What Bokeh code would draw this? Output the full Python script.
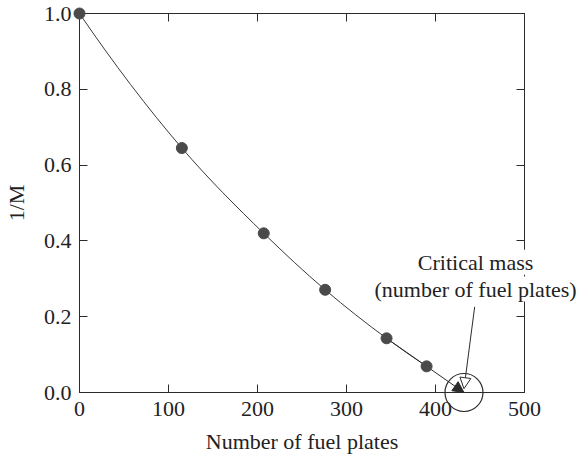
import numpy as np
from bokeh.plotting import figure
from bokeh.models import (LinearAxis, FixedTicker, NumeralTickFormatter, Range1d,
                          Arrow, NormalHead)
from bokeh.core.properties import value
from bokeh.embed import file_html
from bokeh.resources import INLINE

# ---- data ----
plates = [0, 115, 207, 276, 345, 390]          # number of fuel plates loaded
inv_m = [1.0, 0.645, 0.42, 0.271, 0.143, 0.069]  # inverse multiplication 1/M
critical_plates = 432                          # extrapolated critical mass
x_ticks = [0, 100, 200, 300, 400, 500]
y_ticks = [0.0, 0.2, 0.4, 0.6, 0.8, 1.0]
note_lines = ["Critical mass", "(number of fuel plates)"]

FONT = "Liberation Serif"
INK = "#2b2b2b"
FS = "22px"

p = figure(width=580, height=463, x_range=Range1d(0, 500), y_range=Range1d(0, 1.0),
           output_backend="svg", toolbar_location=None,
           min_border_left=77, min_border_right=56, min_border_top=13, min_border_bottom=71,
           x_axis_label="Number of fuel plates", y_axis_label="1/M")
p.grid.visible = False
p.outline_line_color = INK
p.background_fill_color = "white"
p.border_fill_color = "white"

def style_axis(ax, labels=True):
    ax.axis_line_color = INK
    ax.major_tick_line_color = INK
    ax.major_tick_in = 8
    ax.major_tick_out = 0
    ax.minor_tick_line_color = None
    ax.major_label_text_font = FONT
    ax.major_label_text_font_size = FS if labels else "1px"
    ax.major_label_text_color = "#222222" if labels else None
    ax.axis_label_text_font = FONT
    ax.axis_label_text_font_size = FS
    ax.axis_label_text_font_style = "normal"
    ax.axis_label_text_color = "#222222"

xb = p.xaxis[0]
yl = p.yaxis[0]
xb.ticker = FixedTicker(ticks=x_ticks)
yl.ticker = FixedTicker(ticks=y_ticks)
yl.formatter = NumeralTickFormatter(format="0.0")
style_axis(xb)
style_axis(yl)
xb.major_label_standoff = 9
xb.axis_label_standoff = 10
yl.major_label_standoff = 8
yl.axis_label_standoff = 12

xt = LinearAxis(ticker=FixedTicker(ticks=x_ticks))
yr = LinearAxis(ticker=FixedTicker(ticks=y_ticks))
for ax in (xt, yr):
    style_axis(ax, labels=False)
    ax.major_label_standoff = 0
p.add_layout(xt, "above")
p.add_layout(yr, "right")

# ---- smooth curve through the measured points (cubic Bezier segments) ----
x = np.array(plates, float)
y = np.array(inv_m, float)
h = np.diff(x)
s = np.diff(y) / h
m = np.empty_like(x)
m[1:-1] = (h[1:] * s[:-1] + h[:-1] * s[1:]) / (h[:-1] + h[1:])
m[0] = s[0] - h[0] * (s[1] - s[0]) / (h[0] + h[1])
m[-1] = s[-1] + h[-1] * (s[-1] - s[-2]) / (h[-1] + h[-2])
p.bezier(x0=x[:-1], y0=y[:-1], x1=x[1:], y1=y[1:],
         cx0=x[:-1] + h / 3, cy0=y[:-1] + m[:-1] * h / 3,
         cx1=x[1:] - h / 3, cy1=y[1:] - m[1:] * h / 3,
         line_color="#3a3a3a", line_width=1)

# extrapolation arrow to the critical mass
p.add_layout(Arrow(end=NormalHead(size=11, fill_color=INK, line_color=INK, line_width=1),
                   x_start=plates[-2], y_start=inv_m[-2], x_end=critical_plates, y_end=0,
                   line_color=INK, line_width=1))

p.scatter(plates, inv_m, size=11, marker="circle", fill_color="#4a4a4a",
          line_color="#4a4a4a", level="overlay")

# circle marking the critical point
p.scatter([critical_plates], [0], size=38, marker="circle", fill_color=None,
          line_color=INK, line_width=1.2, level="overlay")

# annotation text and leader arrow
p.text(x=[445, 445], y=[0.3435, 0.273], text=note_lines, text_align="center",
       text_baseline="middle", text_font=value(FONT), text_font_size=FS,
       text_color="#222222", background_fill_color="white", level="overlay")
p.add_layout(Arrow(end=NormalHead(size=11, fill_color="white", line_color=INK, line_width=1),
                   x_start=444, y_start=0.226, x_end=critical_plates, y_end=0.01,
                   line_color=INK, line_width=1))

open("out.html", "w").write(file_html(p, INLINE))
